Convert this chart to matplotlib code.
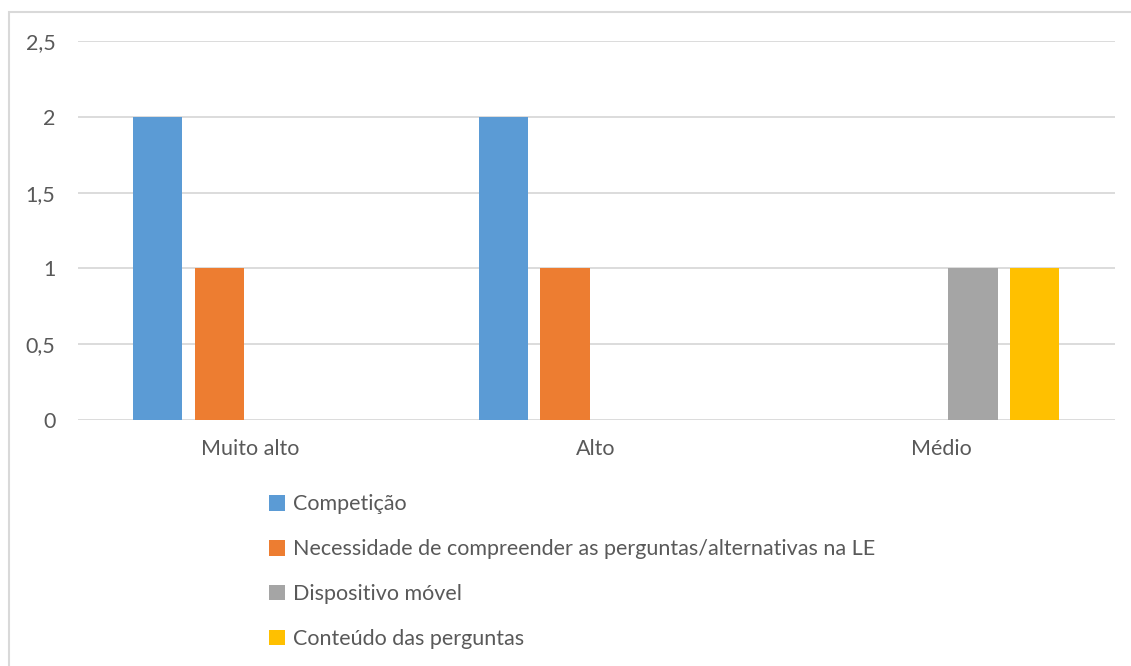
import numpy as np
import matplotlib.pyplot as plt
from matplotlib.patches import Rectangle, Patch

plt.rcParams['font.family'] = ['Lato', 'DejaVu Sans']

categories = ['Muito alto', 'Alto', 'Médio']
series_names = ['Competição',
                'Necessidade de compreender as perguntas/alternativas na LE',
                'Dispositivo móvel',
                'Conteúdo das perguntas']
competicao = [2, 2, 0]
necessidade = [1, 1, 0]
dispositivo = [0, 0, 1]
conteudo = [0, 0, 1]
y_ticks = [0, 0.5, 1, 1.5, 2, 2.5]
y_labels = ['0', '0,5', '1', '1,5', '2', '2,5']

colors = ['#5B9BD5', '#ED7D31', '#A5A5A5', '#FFC000']
text_color = '#595959'
grid_color = '#D9D9D9'

fig = plt.figure(figsize=(11.31, 6.66), dpi=100)
ax = fig.add_axes([0.0686, 0.3694, 0.917, 0.569])

x = np.arange(len(categories))
width = 0.143
step = 0.179
values = [competicao, necessidade, dispositivo, conteudo]
for i, (vals, c) in enumerate(zip(values, colors)):
    ax.bar(x + (i - 1.5) * step, vals, width=width, color=c, zorder=3)

ax.set_xlim(-0.5, len(categories) - 0.5)
ax.set_ylim(0, 2.5)
ax.set_yticks(y_ticks)
ax.set_yticklabels(y_labels)
ax.set_xticks(x)
ax.set_xticklabels(categories)
ax.tick_params(axis='both', length=0, labelsize=15.5, colors=text_color)
ax.tick_params(axis='y', pad=16)
ax.tick_params(axis='x', pad=14)
ax.yaxis.grid(True, color=grid_color, linewidth=1.3, zorder=0)
for s in ax.spines.values():
    s.set_visible(False)

handles = [Patch(facecolor=c, edgecolor='none') for c in colors]
fig.legend(handles, series_names, loc='upper left',
           bbox_to_anchor=(0.238, 0.258), frameon=False,
           fontsize=15.5, labelcolor=text_color, handlelength=0.75,
           handleheight=0.75, handletextpad=0.35, labelspacing=1.16,
           borderpad=0, borderaxespad=0)

# chart frame
fig.patches.append(Rectangle((9 / 1131, -0.1), 1.2, 1.1 - 11.5 / 666,
                             transform=fig.transFigure, fill=False,
                             edgecolor=grid_color, linewidth=1.5))

fig.savefig('out.png', dpi=100)
